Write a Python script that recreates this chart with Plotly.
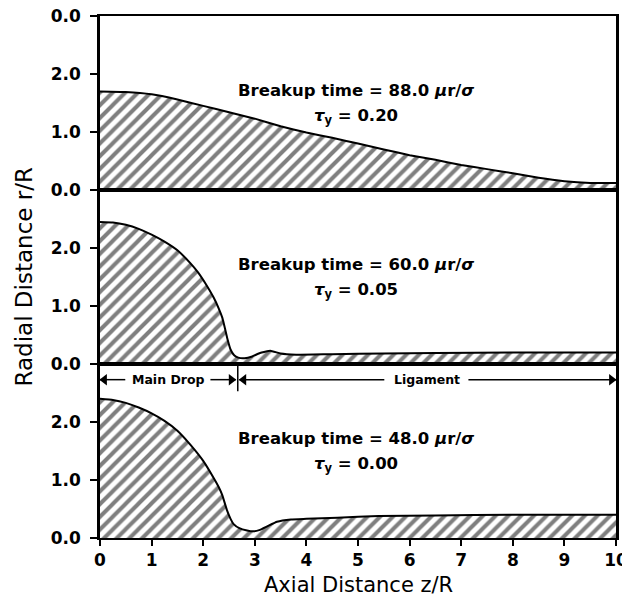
import plotly.graph_objects as go
from plotly.subplots import make_subplots

# ---- data ----
z_top = [0, 0.5, 1, 1.5, 2, 2.5, 3, 3.5, 4, 4.5, 5, 5.5, 6, 6.5, 7, 7.5, 8, 8.5, 9, 9.5, 10]
r_top = [1.70, 1.69, 1.65, 1.56, 1.45, 1.34, 1.23, 1.10, 0.99, 0.90, 0.80, 0.70, 0.60, 0.52,
         0.43, 0.36, 0.29, 0.21, 0.15, 0.12, 0.12]

z_mid = [0, 0.25, 0.5, 0.75, 1.0, 1.25, 1.5, 1.75, 1.9, 2.05, 2.2, 2.3, 2.37, 2.42, 2.47,
         2.53, 2.6, 2.68, 2.8, 2.95, 3.1, 3.3, 3.5, 3.8, 4.5, 5.5, 6.5, 8, 10]
r_mid = [2.45, 2.44, 2.40, 2.33, 2.23, 2.11, 1.96, 1.74, 1.58, 1.38, 1.15, 0.96, 0.80, 0.62, 0.43,
         0.25, 0.15, 0.11, 0.10, 0.13, 0.19, 0.23, 0.18, 0.16, 0.17, 0.18, 0.19, 0.20, 0.20]

z_bot = [0, 0.25, 0.5, 0.75, 1.0, 1.25, 1.5, 1.75, 2.0, 2.2, 2.3, 2.37, 2.46, 2.53, 2.59, 2.7,
         2.85, 2.98, 3.1, 3.24, 3.43, 3.7, 4.0, 4.6, 5.4, 6.5, 8, 10]
r_bot = [2.40, 2.38, 2.33, 2.25, 2.15, 2.02, 1.85, 1.61, 1.33, 1.04, 0.88, 0.74, 0.48, 0.33, 0.24, 0.17,
         0.13, 0.115, 0.14, 0.20, 0.28, 0.32, 0.33, 0.35, 0.38, 0.39, 0.40, 0.40]

breakup_times = ["88.0", "60.0", "48.0"]
tau_values = ["0.20", "0.05", "0.00"]

x_ticks = list(range(0, 11))
y_tick_vals_top = [0, 1, 2, 3]
y_tick_text_top = ["0.0", "1.0", "2.0", "0.0"]
y_tick_vals = [0, 1, 2]
y_tick_text = ["0.0", "1.0", "2.0"]

# segment markers in bottom panel (Main Drop / Ligament)
divider_z = 2.67
main_drop_center = 1.33
ligament_center = 6.33
arrow_level = 2.73
# (tip, tail, direction) of each dimension arrow
dim_arrows = [(0.0, 0.49, "left"), (divider_z - 0.04, 2.14, "right"),
              (divider_z + 0.03, 5.51, "left"), (10.0, 7.14, "right")]

FONT = "DejaVu Sans"

fig = make_subplots(rows=3, cols=1, shared_xaxes=True, vertical_spacing=0)

series = [(z_top, r_top), (z_mid, r_mid), (z_bot, r_bot)]
for i, (zz, rr) in enumerate(series):
    fig.add_trace(
        go.Scatter(
            x=zz, y=rr, mode="lines",
            line=dict(color="black", width=2, shape="spline", smoothing=0.3),
            fill="tozeroy",
            fillcolor="white",
            fillpattern=dict(shape="/", size=9, solidity=0.45, fgcolor="black", bgcolor="white"),
            showlegend=False, hoverinfo="skip",
        ),
        row=i + 1, col=1,
    )

for i in range(3):
    row = i + 1
    last = row == 3
    fig.update_xaxes(
        range=[0, 10], showgrid=False, zeroline=False, automargin=False,
        showline=True, linecolor="black", linewidth=2, mirror=True,
        ticks="outside" if last else "", ticklen=6, tickwidth=2, tickcolor="black",
        tickvals=x_ticks, showticklabels=last, ticklabeloverflow="allow",
        tickfont=dict(family=FONT, size=17, color="black", weight="bold"),
        row=row, col=1,
    )
    fig.update_yaxes(
        range=[0, 3], showgrid=False, zeroline=False, automargin=False,
        showline=True, linecolor="black", linewidth=2.5, mirror=True,
        ticks="outside", ticklen=7, tickwidth=2, tickcolor="black",
        tickvals=y_tick_vals_top if row == 1 else y_tick_vals,
        ticktext=y_tick_text_top if row == 1 else y_tick_text,
        tickfont=dict(family=FONT, size=17, color="black", weight="bold"),
        ticklabelstandoff=6,
        row=row, col=1,
    )

# panel labels
axis_names = [("x", "y"), ("x2", "y2"), ("x3", "y3")]
label_font = dict(family=FONT, size=16.5, color="black", weight="bold")
for (xr, yr), bt, tv in zip(axis_names, breakup_times, tau_values):
    fig.add_annotation(
        x=4.97, y=1.71, xref=xr, yref=yr, showarrow=False,
        text=f"Breakup time = {bt} <i>μ</i>r/<i>σ</i>", font=label_font,
        xanchor="center", yanchor="middle",
    )
    fig.add_annotation(
        x=4.97, y=1.27, xref=xr, yref=yr, showarrow=False,
        text=f"<i>τ</i><sub>y</sub> = {tv}", font=label_font,
        xanchor="center", yanchor="middle",
    )

# Main Drop / Ligament markers
small_font = dict(family=FONT, size=12.5, color="black", weight="bold")
fig.add_annotation(x=main_drop_center, y=arrow_level, xref="x3", yref="y3",
                   text="Main Drop", showarrow=False, font=small_font)
fig.add_annotation(x=ligament_center, y=arrow_level, xref="x3", yref="y3",
                   text="Ligament", showarrow=False, font=small_font)

head_len = 0.17  # arrow head length in z units
for tip, tail, direction in dim_arrows:
    fig.add_shape(type="line", x0=tail, x1=tip, y0=arrow_level, y1=arrow_level,
                  xref="x3", yref="y3", line=dict(color="black", width=1.5))
    sign = 1 if direction == "left" else -1
    fig.add_trace(
        go.Scatter(
            x=[tip + sign * head_len * 0.5], y=[arrow_level], mode="markers",
            marker=dict(symbol="triangle-" + direction, size=10, color="black",
                        line=dict(width=0)),
            showlegend=False, hoverinfo="skip", cliponaxis=False,
        ),
        row=3, col=1,
    )
fig.add_shape(type="line", x0=divider_z, x1=divider_z, y0=2.53, y1=3.0,
              xref="x3", yref="y3", line=dict(color="black", width=1.5))

# axis titles
fig.add_annotation(
    x=0.5, y=0, xref="paper", yref="paper", yshift=-46.5,
    text="Axial Distance z/R", showarrow=False,
    font=dict(family=FONT, size=21, color="black"),
    xanchor="center", yanchor="middle",
)
fig.add_annotation(
    x=0, y=0.5, xref="paper", yref="paper", xshift=-76.5,
    text="Radial Distance r/R", showarrow=False, textangle=-90,
    font=dict(family=FONT, size=23, color="black"),
    xanchor="center", yanchor="middle",
)

fig.update_layout(
    width=622, height=601,
    margin=dict(l=99.5, r=6, t=16, b=62.5, autoexpand=False),
    paper_bgcolor="white", plot_bgcolor="white",
    showlegend=False,
)

fig.write_html("out.html")
